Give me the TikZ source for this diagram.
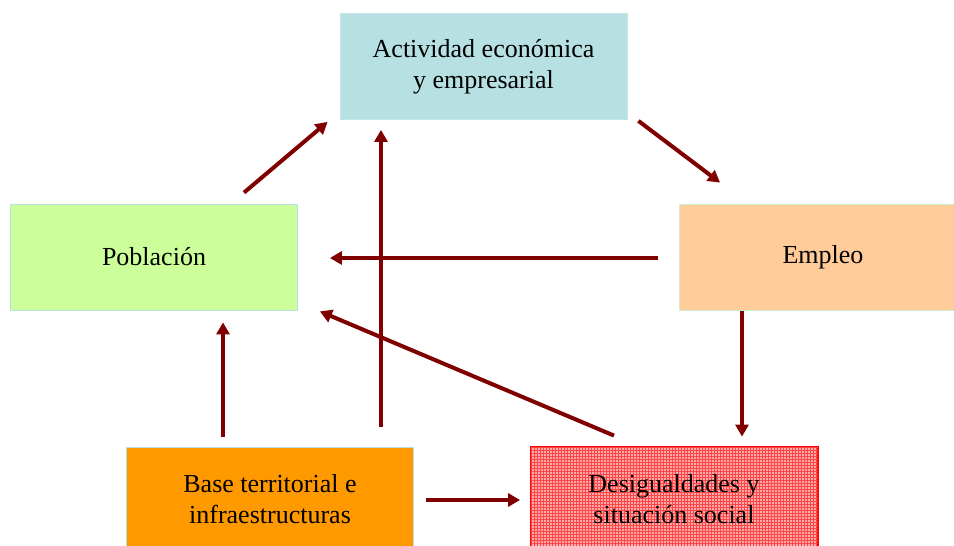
\documentclass[tikz,border=0pt]{standalone}
\usepackage{fontspec}
\setmainfont{Liberation Serif}
\usepackage{xcolor}
\usetikzlibrary{arrows.meta,patterns}
\definecolor{actfill}{RGB}{183,224,227}
\definecolor{pobfill}{RGB}{204,255,153}
\definecolor{empfill}{RGB}{255,204,153}
\definecolor{basefill}{RGB}{255,153,0}
\definecolor{desfill}{RGB}{255,170,170}
\definecolor{desgrid}{RGB}{255,70,70}
\definecolor{arrcol}{RGB}{128,0,0}
\begin{document}
\begin{tikzpicture}[x=1pt,y=-1pt,
	box/.style={draw,line width=0.8pt,minimum width=287pt,minimum height=106pt,align=center,inner sep=0pt,font=\fontsize{26}{31}\selectfont},
	arr/.style={draw=arrcol,line width=4pt,-{Triangle[length=12pt,width=13pt]}}]
	\useasboundingbox (0,0) rectangle (954,546);
	\node[box,fill=actfill,draw=actfill!80!white] (act) at (483.5,66.5) {Actividad económica\\y empresarial};
	\node[box,fill=pobfill,draw=actfill] (pob) at (154,257) {Población};
	\node[box,fill=empfill,draw={rgb,255:red,204;green,240;blue,204}] (emp) at (823,257) {Empleo};
	\node[box,fill=basefill,draw=actfill,minimum height=105pt] (base) at (270,499.5) {Base territorial e\\infraestructuras};
	\node[box,fill=desfill,draw=red,minimum height=105pt] (des) at (674,499.5) {};
	\fill[pattern=grid,pattern color=desgrid] (des.north west) rectangle (des.south east);
	\draw[red,line width=0.8pt] (des.north west) rectangle (des.south east);
	\node[align=center,font=\fontsize{26}{31}\selectfont] at (des.center) {Desigualdades y\\situación social};
	\draw[arr] ([shift={(90,-11)}]pob.north) -- ([shift={(-12,2)}]act.south west);
	\draw[arr] ([shift={(111,-20)}]base.north) -- ([shift={(-102.5,10)}]act.south);
	\draw[arr] ([shift={(11,1)}]act.south east) -- ([shift={(41,-21)}]emp.north west);
	\draw[arr] ([shift={(-21,1)}]emp.west) -- ([shift={(32,1)}]pob.east);
	\draw[arr] ([shift={(-60,-11)}]des.north) -- ([shift={(22,1)}]pob.south east);
	\draw[arr] ([shift={(-47,-10)}]base.north) -- ([shift={(69,12)}]pob.south);
	\draw[arr] ([shift={(-81,1)}]emp.south) -- ([shift={(68,-10)}]des.north);
	\draw[arr] ([shift={(12,0.5)}]base.east) -- ([shift={(-10,0.5)}]des.west);
\end{tikzpicture}
\end{document}
